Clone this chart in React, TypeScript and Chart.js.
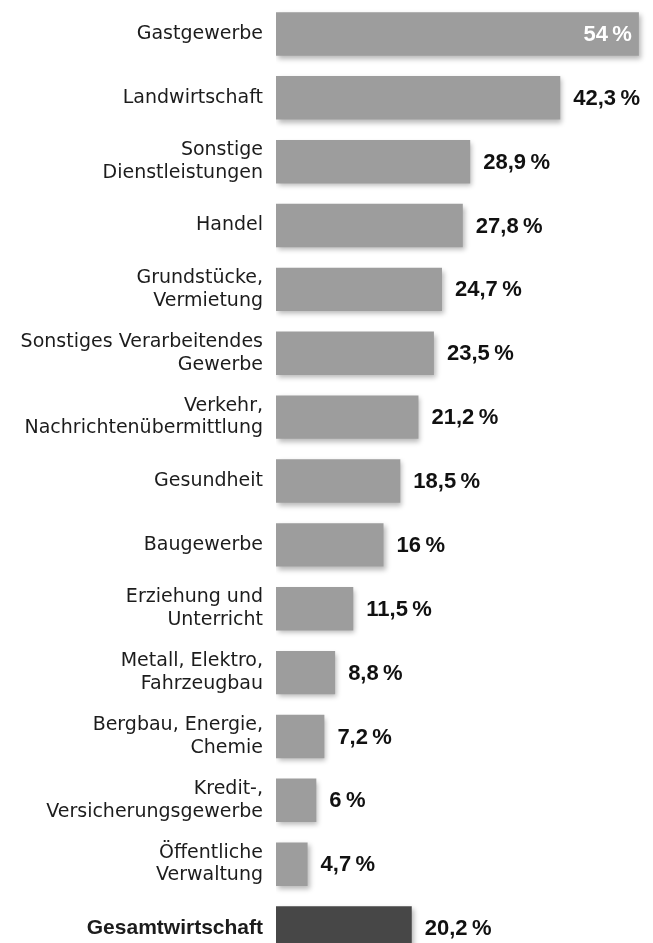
import React, { useEffect, useRef } from "react";
import { Chart, registerables } from "chart.js";

Chart.register(...registerables);

const categories: string[][] = [
  ["Gastgewerbe"],
  ["Landwirtschaft"],
  ["Sonstige", "Dienstleistungen"],
  ["Handel"],
  ["Grundstücke,", "Vermietung"],
  ["Sonstiges Verarbeitendes", "Gewerbe"],
  ["Verkehr,", "Nachrichtenübermittlung"],
  ["Gesundheit"],
  ["Baugewerbe"],
  ["Erziehung und", "Unterricht"],
  ["Metall, Elektro,", "Fahrzeugbau"],
  ["Bergbau, Energie,", "Chemie"],
  ["Kredit-,", "Versicherungsgewerbe"],
  ["Öffentliche", "Verwaltung"],
  ["Gesamtwirtschaft"],
];

const values: number[] = [54, 42.3, 28.9, 27.8, 24.7, 23.5, 21.2, 18.5, 16, 11.5, 8.8, 7.2, 6, 4.7, 20.2];

const totalIndex = 14;
const insideLabelIndex = 0;

const GREY = "#9d9d9d";
const DARK = "#474747";
const TEXT = "#1c1c1c";
const LABEL_FONT = "'DejaVu Sans', sans-serif";
const BOLD_FONT = "'Liberation Sans', Arial, sans-serif";
const VALUE_FONT = "'Liberation Sans', Arial, sans-serif";

const fmt = (v: number) => String(v).replace(".", ",") + "\u2009%";

const shadowPlugin = {
  id: "barShadow",
  beforeDatasetsDraw(chart: any) {
    const ctx = chart.ctx;
    ctx.save();
    ctx.shadowColor = "rgba(0,0,0,0.28)";
    ctx.shadowBlur = 5;
    ctx.shadowOffsetX = 2;
    ctx.shadowOffsetY = 3;
  },
  afterDatasetsDraw(chart: any) {
    chart.ctx.restore();
  },
};

const valueLabelPlugin = {
  id: "valueLabels",
  afterDatasetsDraw(chart: any) {
    const ctx = chart.ctx;
    const meta = chart.getDatasetMeta(0);
    ctx.save();
    ctx.font = `bold 22px ${VALUE_FONT}`;
    ctx.textBaseline = "middle";
    meta.data.forEach((bar: any, i: number) => {
      const text = fmt(values[i]);
      if (i === insideLabelIndex) {
        ctx.fillStyle = "#ffffff";
        ctx.textAlign = "right";
        ctx.fillText(text, bar.x - 7, bar.y + 1);
      } else {
        ctx.fillStyle = "#111111";
        ctx.textAlign = "left";
        ctx.fillText(text, bar.x + 13, bar.y + 1);
      }
    });
    ctx.restore();
  },
};

export default function App() {
  const canvasRef = useRef<HTMLCanvasElement | null>(null);

  useEffect(() => {
    if (!canvasRef.current) return;
    const chart = new Chart(canvasRef.current, {
      type: "bar",
      data: {
        labels: categories,
        datasets: [
          {
            data: values,
            backgroundColor: values.map((_, i) => (i === totalIndex ? DARK : GREY)),
            borderWidth: 0,
            barPercentage: 1,
            categoryPercentage: 0.68,
          },
        ],
      },
      options: {
        indexAxis: "y",
        animation: false,
        responsive: true,
        maintainAspectRatio: false,
        layout: { padding: { top: 2, bottom: 0, left: 0, right: 0 } },
        plugins: {
          legend: { display: false },
          tooltip: { enabled: false },
        },
        scales: {
          x: {
            display: false,
            min: 0,
            max: 56.1,
          },
          y: {
            grid: { display: false, drawTicks: false },
            border: { display: false },
            afterFit: (scale: any) => {
              scale.width = 276;
              scale.paddingTop = 0;
              scale.paddingBottom = 0;
            },
            ticks: {
              padding: 13,
              color: TEXT,
              font: (ctx: any) =>
                ctx.index === totalIndex
                  ? { family: BOLD_FONT, size: 21, lineHeight: 1.1, weight: "bold" }
                  : { family: LABEL_FONT, size: 19, lineHeight: 1.19, weight: "normal" },
            },
          },
        },
      },
      plugins: [shadowPlugin, valueLabelPlugin],
    });
    return () => chart.destroy();
  }, []);

  return (
    <div
      style={{
        position: "absolute",
        left: 0,
        top: 0,
        width: 653,
        height: 943,
        overflow: "hidden",
        background: "#ffffff",
      }}
    >
      <div style={{ position: "relative", width: 653, height: 960 }}>
        <canvas ref={canvasRef} />
      </div>
    </div>
  );
}
